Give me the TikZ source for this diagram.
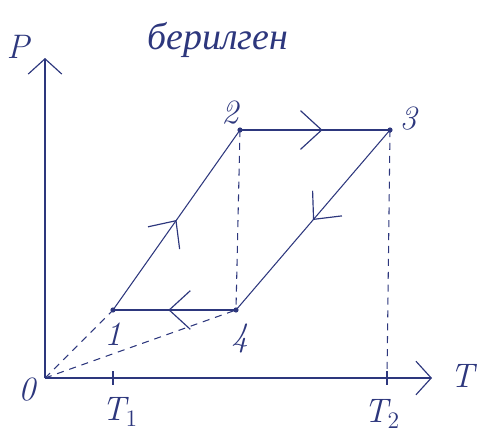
\documentclass[tikz,border=0pt]{standalone}
\usepackage{fontspec}
\newfontfamily\cyrfont{Liberation Serif}
\usetikzlibrary{arrows.meta,decorations.markings}
\definecolor{ink}{RGB}{45,55,125}
\tikzset{
  midarrow/.style={postaction={decorate},decoration={markings,
    mark=at position #1 with {\arrow{Straight Barb[length=12pt,width=22pt,line width=1pt,scale=1.5]}}}},
  axisline/.style={line width=1pt,-{Straight Barb[length=10pt,width=22pt,line width=1pt,scale=1.3]}},
  guide/.style={dashed,dash pattern=on 6pt off 5pt},
  lbl/.style={font=\huge\itshape,scale=1.4}
}
\begin{document}
\begin{tikzpicture}[x=0.03cm,y=-0.03cm,color=ink,line width=0.9pt]
\useasboundingbox (0,0) rectangle (481,441);
% axes
\coordinate (o) at (45,378);
\coordinate (ptop) at (45,58);
\coordinate (tend) at (432,378);
\draw[axisline] (o) -- (ptop);
\draw[axisline] (o) -- (tend);
\node[lbl] at (18,47) {P};
\node[lbl] at (462,376) {T};
\node[lbl] at (27,390) {0};
\node[font=\Huge\itshape,scale=1.3] at (218,40) {\cyrfont берилген};
% points of the cycle
\coordinate (s1) at (113,310);
\coordinate (s2) at (240,130);
\coordinate (s3) at (390,130);
\coordinate (s4) at (236,310);
\coordinate (t1) at (113,378);
\coordinate (t2) at (387,378);
\foreach \p in {s1,s2,s3,s4} \fill (\p) circle (2.2pt);
\draw[midarrow=0.5] (s1) -- (s2);
\draw[midarrow=0.55] (s2) -- (s3);
\draw[midarrow=0.5] (s3) -- (s4);
\draw[midarrow=0.55] (s4) -- (s1);
% dashed guides
\draw[guide] (s2) -- (s4);
\draw[guide] (s3) -- (t2);
\draw[guide] (o) -- (s1);
\draw[guide] (o) -- (s4);
% ticks
\draw (t1) ++(0,-7) -- ++(0,14);
\draw (t2) ++(0,-7) -- ++(0,14);
\node[lbl] at (113,334) {1};
\node[lbl] at (230,113) {2};
\node[lbl] at (408,119) {3};
\node[lbl] at (240,338) {4};
\node[lbl] at (120,412) {T$_1$};
\node[lbl] at (382,414) {T$_2$};
\end{tikzpicture}
\end{document}
